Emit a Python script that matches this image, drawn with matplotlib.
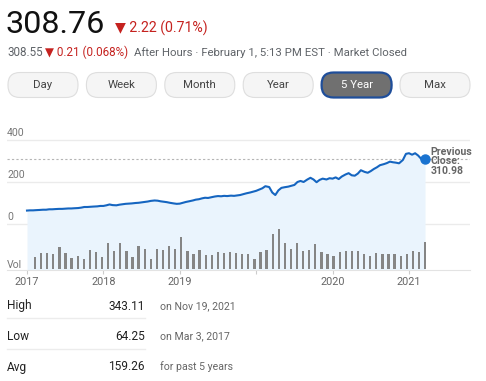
import numpy as np
import matplotlib
matplotlib.use("Agg")
import matplotlib.pyplot as plt
from matplotlib.patches import FancyBboxPatch

plt.rcParams['font.family'] = ['Roboto', 'DejaVu Sans']

# header values
last_price = "308.76"
change = "\u25bc 2.22 (0.71%)"
ah_price = "308.55"
ah_change = "\u25bc 0.21 (0.068%)"
ah_info = "After Hours \u00b7 February 1, 5:13 PM EST \u00b7 Market Closed"
ranges = ["Day", "Week", "Month", "Year", "5 Year", "Max"]
selected = "5 Year"

# price series, t = years since start of 2017
price_t = [0.00, 0.04, 0.08, 0.12, 0.17, 0.21, 0.25, 0.29, 0.33, 0.37, 0.42, 0.46,
           0.50, 0.54, 0.58, 0.62, 0.67, 0.71, 0.75, 0.79, 0.83, 0.87, 0.92, 0.96,
           1.00, 1.04, 1.08, 1.12, 1.17, 1.21, 1.25, 1.29, 1.33, 1.37, 1.42, 1.46,
           1.50, 1.54, 1.58, 1.62, 1.67, 1.71, 1.75, 1.79, 1.83, 1.87, 1.92, 1.96,
           2.00, 2.04, 2.08, 2.12, 2.17, 2.21, 2.25, 2.29, 2.33, 2.37, 2.42, 2.46,
           2.50, 2.54, 2.58, 2.62, 2.67, 2.71, 2.75, 2.79, 2.83, 2.87, 2.92, 2.96,
           3.00, 3.04, 3.08, 3.12, 3.17, 3.21, 3.25, 3.29, 3.33, 3.37, 3.42, 3.46,
           3.50, 3.54, 3.58, 3.62, 3.67, 3.71, 3.75, 3.79, 3.83, 3.87, 3.92, 3.96,
           4.00, 4.04, 4.08, 4.12, 4.17, 4.21, 4.25, 4.29, 4.33, 4.37, 4.42, 4.46,
           4.50, 4.54, 4.58, 4.62, 4.67, 4.71, 4.75, 4.79, 4.83, 4.87, 4.92, 4.96,
           5.00, 5.04, 5.08, 5.12, 5.17, 5.21]
price_v = [64, 65, 65, 66, 67, 68, 68, 70, 70, 71, 72, 72,
           73, 74, 74, 75, 76, 78, 81, 81, 82, 83, 84, 86,
           86, 89, 93, 90, 89, 92, 94, 96, 97, 98, 100, 101,
           103, 105, 107, 110, 112, 111, 108, 106, 104, 101, 98, 96,
           97, 101, 105, 108, 112, 116, 118, 122, 125, 124, 128, 131,
           133, 132, 134, 133, 135, 134, 136, 138, 142, 146, 150, 154,
           158, 164, 170, 180, 176, 150, 138, 160, 172, 175, 178, 182,
           186, 200, 205, 200, 212, 220, 212, 199, 210, 216, 212, 218,
           216, 222, 214, 226, 236, 242, 232, 230, 240, 256, 248, 244,
           252, 262, 270, 280, 285, 290, 297, 294, 292, 289, 305, 334,
           337, 330, 337, 326, 306, 310.98]
prev_close = 310.98

# volume bars (millions), one per period
volume = [11.7, 15.7, 16.0, 14.7, 21.7, 15.7, 11.0, 13.0, 10.0, 19.0,
          17.0, 11.7, 25.7, 18.3, 25.7, 18.3, 11.7, 22.7, 20.0, 10.3,
          20.0, 19.0, 23.3, 20.3, 32.3, 18.3, 14.7, 18.7, 14.3, 14.3,
          17.0, 15.7, 17.0, 15.7, 15.0, 14.7, 10.0, 16.7, 18.7, 35.0,
          40.0, 25.7, 20.3, 26.3, 18.3, 19.3, 25.3, 17.0, 14.7, 13.3,
          17.0, 18.0, 18.0, 18.0, 15.0, 13.3, 15.7, 14.7, 14.7, 14.7,
          13.3, 14.7, 18.3, 17.3, 27.3]

year_ticks = [0, 1, 2, 3, 4, 5]
year_labels = ["2017", "2018", "2019", "", "2020", "2021"]
y_ticks = [400, 200, 0]

stats_names = ["High", "Low", "Avg"]
stats_values = ["343.11", "64.25", "159.26"]
stats_notes = ["on Nov 19, 2021", "on Mar 3, 2017", "for past 5 years"]

W, H = 486, 381
fig = plt.figure(figsize=(W / 100, H / 100), dpi=100)
fig.patch.set_facecolor("white")

# overlay in pixel units for the page furniture
page = fig.add_axes([0, 0, 1, 1])
page.set_xlim(0, W)
page.set_ylim(H, 0)
page.axis("off")

red = "#c5221f"
gray = "#5f6368"
blue = "#1565c0"

# ---- header ----
page.text(5, 33, last_price, fontsize=23.3, color="#111111", va="baseline")
page.text(115, 33, change, fontsize=10.2, color=red, va="baseline")
page.text(7, 56, ah_price, fontsize=8.4, color=gray, va="baseline")
page.text(45, 56, ah_change, fontsize=8.4, color=red, va="baseline")
page.text(134, 56, ah_info, fontsize=8.2, color=gray, va="baseline")

# range buttons
for i, name in enumerate(ranges):
    x0 = 7 + i * 78.4
    sel = name == selected
    box = FancyBboxPatch((x0 + 1, 72.5), 70, 25,
                         boxstyle="round,pad=0,rounding_size=12",
                         facecolor="#707070" if sel else "#f5f5f5",
                         edgecolor="#1f4e9a" if sel else "#dedede",
                         linewidth=1.6 if sel else 0.8)
    page.add_patch(box)
    page.text(x0 + 36, 85.5, name, fontsize=8.2,
              color="white" if sel else "#444444", ha="center", va="center")

# ---- chart ----
ax = fig.add_axes([7 / W, 1 - 270 / H, 463 / W, 140 / H])
ax.set_facecolor("none")
px_per_unit = 0.21
ax.set_ylim(-(270 - 224) / px_per_unit, (224 - 130) / px_per_unit)
ax.set_xlim((7 - 27) / 76.4, (470 - 27) / 76.4)

for v in y_ticks:
    ax.axhline(v, color="#ebebeb", lw=1, zorder=1)
ax.axhline(prev_close, color="#b5b5b5", lw=0.8, ls=(0, (2, 2)), zorder=1)

ax.fill_between(price_t, price_v, ax.get_ylim()[0], color="#eaf4fd", lw=0, zorder=2)
ax.plot(price_t, price_v, color=blue, lw=1.5, zorder=4)
ax.plot([price_t[-1]], [prev_close], "o", color="#1a73d0", ms=6.5, zorder=5)
ax.text(5.28, prev_close - 12, "Previous\nClose:\n310.98", fontsize=7.6,
        fontweight="bold", color="#666666", va="center", ha="left",
        linespacing=0.95, zorder=5)

for s in ["top", "left", "right"]:
    ax.spines[s].set_visible(False)
ax.spines["bottom"].set_color("#e3e3e3")
ax.set_yticks([])
ax.set_xticks(year_ticks)
ax.set_xticklabels(year_labels)
ax.tick_params(axis="x", length=3, color="#cccccc", labelsize=7.8,
               labelcolor="#666666", pad=2)

axv = ax.twinx()
axv.set_ylim(-1, 139)
bar_t = np.linspace(0.105, 5.21, len(volume))
axv.bar(bar_t, volume, width=0.03, color="#858585", zorder=3)
axv.set_xlim(ax.get_xlim())
axv.axis("off")

for v in y_ticks:
    page.text(7, 224 - v * px_per_unit - 7, str(v), fontsize=7.6,
              color="#777777", va="center")
page.text(7, 265, "Vol", fontsize=7.6, color="#777777", va="center")

# ---- stats table ----
rows_y = [306, 336, 367]
for name, val, note, y in zip(stats_names, stats_values, stats_notes, rows_y):
    page.text(7, y, name, fontsize=8.6, color="#222222", va="center")
    page.text(145, y, val, fontsize=8.6, color="#222222", va="center", ha="right")
    page.text(160, y, note, fontsize=7.6, color="#666666", va="center")
for y in [318, 349]:
    page.plot([7, 145], [y, y], color="#ececec", lw=1)

fig.savefig("out.png", dpi=100)
